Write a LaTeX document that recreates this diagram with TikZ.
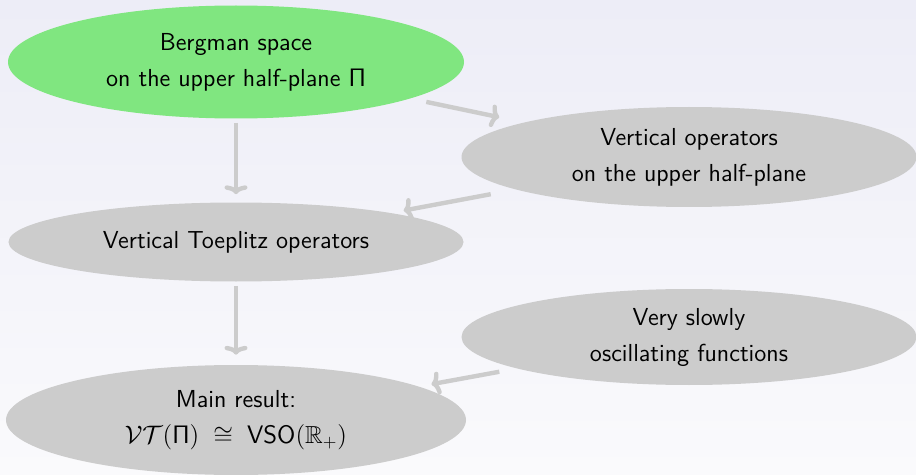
\documentclass[tikz,border=0pt]{standalone}
\usepackage{amssymb}
\usepackage{tikz}
\usetikzlibrary{arrows.meta, positioning, shapes.geometric}
\definecolor{blobgreen}{RGB}{128,230,128}
\definecolor{blobgray}{RGB}{204,204,204}
\definecolor{bgtop}{RGB}{237,237,247}
\definecolor{bgbottom}{RGB}{250,250,252}
\tikzstyle{greenblob} = [ellipse, fill=blobgreen, inner sep=0pt, minimum width=9.12cm, minimum height=2.26cm, text centered, align=center]
\tikzstyle{grayblob}  = [ellipse, fill=blobgray, inner sep=0pt, minimum width=9.1cm, minimum height=2cm, text centered, align=center]
\tikzstyle{link}      = [line width=2.5pt, draw=blobgray, ->, >={To[length=5pt,width=13pt]}]

\begin{document}
\begin{tikzpicture}[node distance=3.6cm, font=\sffamily\fontsize{14}{20.5}\selectfont]
\shade[top color=bgtop, bottom color=bgbottom] (0,0) rectangle (18.32,-9.5);
\useasboundingbox (0,0) rectangle (18.32,-9.5);

\node (bergman) [greenblob] at (4.72,-1.24) {Bergman space\\on the upper half-plane $\mathsf{\Pi}$};
\node (vertops) [grayblob, right of=bergman, xshift=5.46cm, yshift=-1.9cm] {Vertical operators\\on the upper half-plane};
\node (toeplitz) [grayblob, below of=bergman, minimum height=1.58cm] {Vertical Toeplitz operators};
\node (vso) [grayblob, below of=vertops, minimum height=1.92cm] {Very slowly\\oscillating functions};
\node (main) [grayblob, below of=toeplitz, yshift=0.04cm, minimum width=9.2cm, minimum height=2.2cm] {Main result:\\$\mathcal{V}\mathcal{T}(\mathsf{\Pi})\;\cong\;\mathsf{VSO}(\mathbb{R}_+)$};

\draw [link, shorten <=0.08cm, shorten >=0.16cm] (bergman) -- (toeplitz);
\draw [link, shorten <=0.32cm, shorten >=0.5cm] (bergman) -- (vertops);
\draw [link, shorten <=0.5cm, shorten >=0.25cm] (vertops) -- (toeplitz);
\draw [link, shorten <=0.08cm, shorten >=0.2cm] (toeplitz) -- (main);
\draw [link, shorten <=0.35cm, shorten >=0.25cm] (vso) -- (main);
\end{tikzpicture}
\end{document}
